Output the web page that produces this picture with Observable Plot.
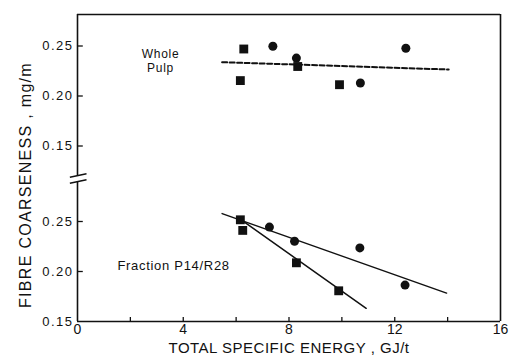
<!DOCTYPE html>
<html>
<head>
<meta charset="utf-8">
<script src="https://cdn.jsdelivr.net/npm/d3@7"></script>
<script src="https://cdn.jsdelivr.net/npm/@observablehq/plot@0.6"></script>
<style>
  html, body { margin: 0; padding: 0; background: #fff; }
  .ylab text { letter-spacing: 1.3px; }
  .xlab text { letter-spacing: 0.5px; }
  .ytl text { letter-spacing: 1.5px; }
  .ann text { letter-spacing: 0.7px; }
</style>
</head>
<body>
<div id="chart"></div>
<script>
// ---- Data ----
// Whole pulp (upper panel)
const wholeCircleX = [7.39, 8.28, 10.70, 12.42];
const wholeCircleY = [0.2497, 0.2379, 0.2130, 0.2477];
const wholeSquareX = [6.29, 6.16, 8.33, 9.91];
const wholeSquareY = [0.2470, 0.2154, 0.2295, 0.2113];
const wholeLineX = [5.47, 14.04];
const wholeLineY = [0.2338, 0.2265];

// Fraction P14/R28 (lower panel)
const fracCircleX = [7.26, 8.21, 10.68, 12.39];
const fracCircleY = [0.2444, 0.2302, 0.2236, 0.1864];
const fracSquareX = [6.16, 6.25, 8.28, 9.88];
const fracSquareY = [0.2517, 0.2411, 0.2087, 0.1807];
const fracCircleLineX = [5.47, 13.96];
const fracCircleLineY = [0.2579, 0.1784];
const fracSquareLineX = [6.10, 10.92];
const fracSquareLineY = [0.2533, 0.1632];

// Ticks and labels
const xTickValues = [0, 4, 8, 12, 16];
const xMinorTicks = [2, 4, 6, 8, 10, 12, 14];
const yTickValues = [0.15, 0.20, 0.25];
const yTickLabels = ["0.15", "0.20", "0.25"];
const xTitle = "TOTAL SPECIFIC ENERGY , GJ/t";
const yTitle = "FIBRE COARSENESS , mg/m";
const wholeLabel = "Whole\nPulp";
const fracLabel = "Fraction P14/R28";

// ---- Layout of the broken y axis (single linear scale) ----
const upperOffset = 0.1755;          // shift of the upper panel on the shared scale
const yTop = 0.457;
const yBottom = 0.15;
const up = v => v + upperOffset;

const zip = (xs, ys, f = v => v) => xs.map((x, i) => ({x, y: f(ys[i])}));

const wholeCircles = zip(wholeCircleX, wholeCircleY, up);
const wholeSquares = zip(wholeSquareX, wholeSquareY, up);
const wholeLine = zip(wholeLineX, wholeLineY, up);
const fracCircles = zip(fracCircleX, fracCircleY);
const fracSquares = zip(fracSquareX, fracSquareY);
const fracCircleLine = zip(fracCircleLineX, fracCircleLineY);
const fracSquareLine = zip(fracSquareLineX, fracSquareLineY);

const yTicks = [
  ...yTickValues.map((v, i) => ({pos: v, label: yTickLabels[i]})),
  ...yTickValues.map((v, i) => ({pos: up(v), label: yTickLabels[i]}))
];

const breakLow = 0.290, breakHigh = 0.296;
const slashes = [
  {x1: -0.29, x2: 0.34, y1: 0.2943, y2: 0.2977},
  {x1: -0.29, x2: 0.34, y1: 0.2883, y2: 0.2917}
];

const ink = "#111";

const chart = Plot.plot({
  width: 510,
  height: 362,
  marginLeft: 77,
  marginRight: 10,
  marginTop: 14,
  marginBottom: 41,
  x: {domain: [0, 16], axis: null},
  y: {domain: [yBottom, yTop], axis: null},
  style: {fontFamily: "'Liberation Sans', Arial, Helvetica, sans-serif", color: ink, background: "#fff", overflow: "visible"},
  marks: [
    // frame
    Plot.ruleY([yBottom], {x1: 0, x2: 16, stroke: ink, strokeWidth: 1.6}),
    Plot.ruleY([yTop], {x1: 0, x2: 16, stroke: ink, strokeWidth: 1.6}),
    Plot.ruleX([16], {y1: yBottom, y2: yTop, stroke: ink, strokeWidth: 1.6}),
    Plot.ruleX([0], {y1: yBottom, y2: breakLow, stroke: ink, strokeWidth: 1.6}),
    Plot.ruleX([0], {y1: breakHigh, y2: yTop, stroke: ink, strokeWidth: 1.6}),
    Plot.link(slashes, {x1: "x1", x2: "x2", y1: "y1", y2: "y2", stroke: ink, strokeWidth: 1.4}),
    // inward ticks
    Plot.link(xMinorTicks, {x1: d => d, x2: d => d, y1: yBottom, y2: yBottom + 0.0045, stroke: ink, strokeWidth: 1.3}),
    Plot.link(yTicks.filter(d => d.pos > yBottom), {x1: 0, x2: 0.2, y1: "pos", y2: "pos", stroke: ink, strokeWidth: 1.3}),
    // tick labels
    Plot.text(yTicks, {x: 0, y: "pos", text: "label", textAnchor: "end", dx: -4, fontSize: 13, fill: ink, className: "ytl"}),
    Plot.text(xTickValues, {x: d => d, y: yBottom, text: d => String(d), dy: 8, fontSize: 14, fill: ink}),
    // axis titles
    Plot.text([xTitle], {frameAnchor: "bottom", textAnchor: "middle", dy: 31, text: d => d, fontSize: 15, fill: ink, className: "xlab"}),
    Plot.text([yTitle], {frameAnchor: "left", textAnchor: "middle", rotate: -90, dx: -52, dy: 17, text: d => d, fontSize: 16, fill: ink, className: "ylab"}),
    // fitted lines
    Plot.line(wholeLine, {x: "x", y: "y", stroke: ink, strokeWidth: 2, strokeDasharray: "5,2.5"}),
    Plot.line(fracCircleLine, {x: "x", y: "y", stroke: ink, strokeWidth: 1.5}),
    Plot.line(fracSquareLine, {x: "x", y: "y", stroke: ink, strokeWidth: 1.5}),
    // points
    Plot.dot(wholeCircles, {x: "x", y: "y", r: 4.5, fill: ink, stroke: "none"}),
    Plot.dot(fracCircles, {x: "x", y: "y", r: 4.5, fill: ink, stroke: "none"}),
    Plot.dot(wholeSquares, {x: "x", y: "y", r: 5, symbol: "square", fill: ink, stroke: "none"}),
    Plot.dot(fracSquares, {x: "x", y: "y", r: 5, symbol: "square", fill: ink, stroke: "none"}),
    // annotations
    Plot.text([wholeLabel], {x: 3.14, y: up(0.2355), text: d => d, fontSize: 12, lineHeight: 1.12, fill: ink, className: "ann"}),
    Plot.text([fracLabel], {x: 1.51, y: 0.206, text: d => d, textAnchor: "start", fontSize: 13, fill: ink, className: "ann"})
  ]
});

document.getElementById("chart").appendChild(chart);
</script>
</body>
</html>
